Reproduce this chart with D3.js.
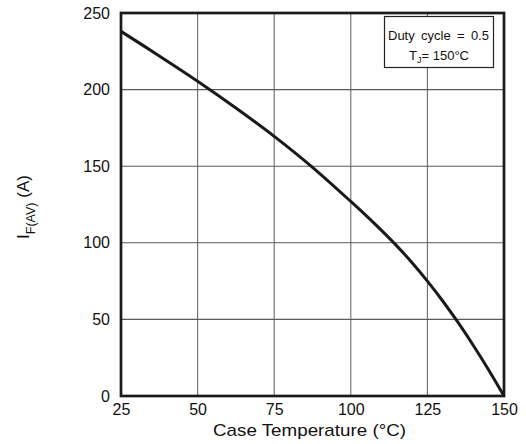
<!DOCTYPE html>
<html>
<head>
<meta charset="utf-8">
<script src="https://cdn.jsdelivr.net/npm/d3@7/dist/d3.min.js"></script>
<style>
  html, body { margin: 0; padding: 0; background: #fff; }
  svg { display: block; font-family: "Liberation Sans", Arial, Helvetica, sans-serif; }
</style>
</head>
<body>
<svg id="chart" width="526" height="444"></svg>
<script>
// Forward current derating vs. case temperature
const caseTemp = [25, 37.5, 50, 62.5, 75, 87.5, 100, 107.5, 115, 120, 125, 130, 135, 140, 145, 150];
const currentAvg = [238, 222, 205.5, 188, 169.5, 149.3, 127, 113, 98, 87, 75, 62, 48, 33, 17, 0];

const xTicks = [25, 50, 75, 100, 125, 150];
const yTicks = [0, 50, 100, 150, 200, 250];

const svg = d3.select("#chart");
const plot = { left: 121, right: 504, top: 13, bottom: 396 };

const x = d3.scaleLinear().domain([25, 150]).range([plot.left, plot.right]);
const y = d3.scaleLinear().domain([0, 250]).range([plot.bottom, plot.top]);

// grid
const grid = svg.append("g");
grid.selectAll("line.v").data(xTicks.slice(1, -1)).join("line")
  .attr("x1", d => x(d)).attr("x2", d => x(d))
  .attr("y1", plot.top).attr("y2", plot.bottom)
  .attr("stroke", "#6a6a6a").attr("stroke-width", 1.1);
grid.selectAll("line.h").data(yTicks.slice(1, -1)).join("line")
  .attr("y1", d => y(d)).attr("y2", d => y(d))
  .attr("x1", plot.left).attr("x2", plot.right)
  .attr("stroke", "#5a5a5a").attr("stroke-width", 1.1);

// axes (labels only, no tick marks)
const xAxis = svg.append("g")
  .attr("transform", `translate(0,${plot.bottom})`)
  .call(d3.axisBottom(x).tickValues(xTicks).tickSize(0).tickPadding(8).tickFormat(d3.format("d")));
const yAxis = svg.append("g")
  .attr("transform", `translate(${plot.left},0)`)
  .call(d3.axisLeft(y).tickValues(yTicks).tickSize(0).tickPadding(11).tickFormat(d3.format("d")));
[xAxis, yAxis].forEach(a => {
  a.select(".domain").remove();
  a.selectAll("text").attr("font-size", 16).attr("fill", "#111")
    .attr("font-family", "Liberation Sans, Arial, sans-serif");
});
xAxis.selectAll("text").attr("dy", null).attr("y", 19);

// curve
const line = d3.line().x((d, i) => x(caseTemp[i])).y(d => y(d)).curve(d3.curveCatmullRom.alpha(0.5));
svg.append("path").datum(currentAvg)
  .attr("d", line)
  .attr("fill", "none").attr("stroke", "#1a1a1a").attr("stroke-width", 3)
  .attr("stroke-linejoin", "round");

// frame
svg.append("rect")
  .attr("x", plot.left).attr("y", plot.top)
  .attr("width", plot.right - plot.left).attr("height", plot.bottom - plot.top)
  .attr("fill", "none").attr("stroke", "#1a1a1a").attr("stroke-width", 2.7);

// condition box
const box = svg.append("g");
box.append("rect").attr("x", 384.5).attr("y", 16.5).attr("width", 109).attr("height", 51)
  .attr("fill", "#fff").attr("stroke", "#222").attr("stroke-width", 1.2);
box.append("text").attr("x", 388).attr("y", 39.5).attr("font-size", 13)
  .attr("word-spacing", 2.7).attr("fill", "#111").text("Duty cycle = 0.5");
const t2 = box.append("text").attr("x", 439).attr("y", 59.5).attr("font-size", 13)
  .attr("text-anchor", "middle").attr("fill", "#111");
t2.append("tspan").text("T");
t2.append("tspan").attr("font-size", 9).attr("dy", 3).text("J");
t2.append("tspan").attr("dy", -3).text("= 150°C");

// axis titles
svg.append("text").attr("x", 309.5).attr("y", 436).attr("font-size", 17)
  .attr("text-anchor", "middle").attr("textLength", 193).attr("lengthAdjust", "spacingAndGlyphs")
  .attr("fill", "#111").text("Case Temperature (°C)");

const yt = svg.append("text").attr("transform", "translate(29,207) rotate(-90)")
  .attr("font-size", 17).attr("text-anchor", "middle").attr("fill", "#111");
yt.append("tspan").text("I");
yt.append("tspan").attr("font-size", 12.5).attr("dy", 6).text("F(AV)");
yt.append("tspan").attr("dy", -6).text(" (A)");
</script>
</body>
</html>
